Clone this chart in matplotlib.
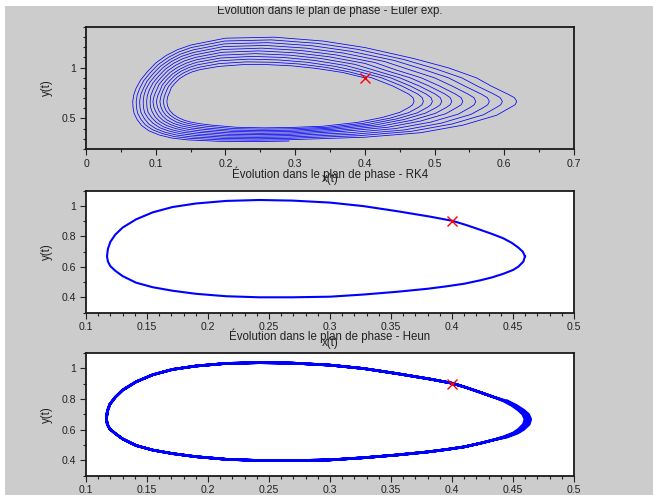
import matplotlib
matplotlib.use("Agg")
import matplotlib.pyplot as plt
from matplotlib.ticker import MultipleLocator, FuncFormatter
from matplotlib.patches import Rectangle

N = None

# ---------------- data ----------------
titles = ["Évolution dans le plan de phase - Euler exp.",
          "Évolution dans le plan de phase - RK4",
          "Évolution dans le plan de phase - Heun"]
start_x, start_y = 0.4, 0.9

# Euler explicit spiral, read station by station; columns = successive turns 0..10
euler_station_x = [
    [0.400, N, N, N, N, N, N, N, N, N, N],                                              # start
    [N, 0.469, 0.4822, 0.4949, 0.5081, 0.5224, 0.5380, 0.5564, 0.5757, 0.5941, 0.6145],   # URa
    [N, 0.463, 0.476, 0.488, 0.501, 0.515, 0.530, 0.548, 0.567, 0.585, 0.605],            # UR1
    [N, 0.440, 0.453, 0.465, 0.478, 0.492, 0.507, 0.525, 0.543, 0.561, 0.581],            # UR2
    [N, 0.410, 0.424, 0.437, 0.450, 0.465, 0.481, 0.500, 0.520, 0.539, 0.560],            # UR3
    [0.368, 0.378, 0.391, 0.403, 0.416, 0.430, 0.445, 0.463, 0.482, 0.500, 0.520],        # UR4
    [0.330, 0.344, 0.358, 0.372, 0.386, 0.400, 0.414, 0.428, 0.442, 0.456, 0.470],        # UR5
    [0.295, 0.306, 0.316, 0.327, 0.337, 0.348, 0.358, 0.369, 0.379, 0.390, 0.400],        # T1
    [0.260, 0.268, 0.276, 0.284, 0.292, 0.300, 0.308, 0.316, 0.324, 0.332, 0.340],        # T2
    [0.225, 0.230, 0.234, 0.239, 0.243, 0.248, 0.252, 0.257, 0.261, 0.266, 0.270],        # T3
    [0.190, 0.191, 0.192, 0.193, 0.194, 0.195, 0.196, 0.197, 0.198, 0.199, 0.200],        # T4
    [0.163, 0.162, 0.160, 0.159, 0.158, 0.157, 0.155, 0.154, 0.153, 0.151, 0.150],        # T5
    [0.152, 0.150, 0.148, 0.146, 0.144, 0.1415, 0.139, 0.137, 0.135, 0.133, 0.131],       # TL
    [0.143, 0.140, 0.137, 0.135, 0.132, 0.129, 0.126, 0.123, 0.121, 0.118, 0.115],        # L1
    [0.1345, 0.131, 0.1276, 0.1242, 0.1207, 0.1173, 0.1138, 0.1104, 0.1069, 0.1035, 0.100],  # L1b
    [0.128, 0.124, 0.120, 0.116, 0.112, 0.108, 0.104, 0.100, 0.096, 0.092, 0.088],        # L2
    [0.1225, 0.1181, 0.1137, 0.1093, 0.1049, 0.1005, 0.0961, 0.0917, 0.0873, 0.0829, 0.0785],  # L2b
    [0.120, 0.115, 0.110, 0.106, 0.101, 0.096, 0.091, 0.086, 0.082, 0.077, 0.072],        # L3
    [0.1170, 0.1122, 0.1073, 0.1025, 0.0976, 0.0928, 0.0879, 0.0831, 0.0782, 0.0734, 0.0685],  # L3b
    [0.116, 0.111, 0.106, 0.101, 0.096, 0.092, 0.087, 0.082, 0.077, 0.072, 0.067],        # L4
    [0.1172, 0.1122, 0.1073, 0.1023, 0.0973, 0.0924, 0.0874, 0.0824, 0.0774, 0.0725, 0.0675],  # L4b
    [0.120, 0.115, 0.110, 0.105, 0.100, 0.095, 0.089, 0.084, 0.079, 0.074, 0.069],        # L5
    [0.1250, 0.1199, 0.1147, 0.1096, 0.1044, 0.0993, 0.0941, 0.0890, 0.0838, 0.0787, 0.0735],  # L5b
    [0.132, 0.127, 0.122, 0.116, 0.111, 0.106, 0.101, 0.096, 0.090, 0.085, 0.080],        # L6
    [0.1405, 0.1355, 0.1305, 0.1255, 0.1205, 0.1155, 0.1105, 0.1055, 0.1005, 0.0955, 0.0905],  # L6b
    [0.150, 0.146, 0.141, 0.137, 0.132, 0.128, 0.123, 0.119, 0.114, 0.110, 0.105],        # B1
    [0.164, 0.160, 0.156, 0.152, 0.148, 0.1435, 0.1395, 0.1355, 0.1312, 0.127, 0.123],    # B1b
    [0.180, 0.177, 0.173, 0.170, 0.166, 0.163, 0.159, 0.156, 0.152, 0.149, 0.145],        # B2
    [0.215, 0.213, 0.210, 0.208, 0.205, 0.203, 0.200, 0.198, 0.195, 0.193, 0.190],        # B3
    [0.255, 0.254, 0.252, 0.251, 0.249, 0.248, 0.246, 0.245, 0.243, 0.242, 0.240],        # B4
    [0.295, 0.295, 0.294, 0.294, 0.293, 0.293, 0.293, 0.292, 0.292, 0.291, 0.291],        # B5
    [0.340, 0.346, 0.351, 0.356, 0.362, 0.368, 0.376, 0.384, 0.392, 0.400, N],            # LR1
    [0.390, 0.398, 0.406, 0.414, 0.423, 0.433, 0.444, 0.456, 0.467, 0.480, N],            # LR2
    [0.425, 0.436, 0.446, 0.456, 0.468, 0.480, 0.495, 0.510, 0.525, 0.541, N],            # LR3
    [0.450, 0.463, 0.475, 0.487, 0.501, 0.516, 0.534, 0.552, 0.570, 0.589, N],            # LR4
    [0.464, 0.477, 0.490, 0.503, 0.517, 0.532, 0.551, 0.570, 0.588, 0.608, N],            # LR5
    [0.4685, 0.4819, 0.4947, 0.5080, 0.5224, 0.5382, 0.5568, 0.5762, 0.5949, 0.6155, N],  # LRa
    [0.4706, 0.4840, 0.4969, 0.5103, 0.5247, 0.5405, 0.5591, 0.5786, 0.5973, 0.6179, N],  # right tip
]
euler_station_y = [
    [0.900, N, N, N, N, N, N, N, N, N, N],
    [N, 0.705, 0.705, 0.705, 0.705, 0.705, 0.705, 0.705, 0.705, 0.705, 0.705],
    [N, 0.74, 0.74, 0.74, 0.74, 0.74, 0.74, 0.74, 0.74, 0.74, 0.74],
    [N, 0.82, 0.82, 0.82, 0.82, 0.82, 0.82, 0.82, 0.82, 0.82, 0.82],
    [N, 0.90, 0.90, 0.90, 0.90, 0.90, 0.90, 0.90, 0.90, 0.90, 0.90],
    [0.953, 0.958, 0.962, 0.965, 0.969, 0.973, 0.977, 0.982, 0.987, 0.992, 0.998],
    [0.993, 1.003, 1.012, 1.022, 1.032, 1.042, 1.051, 1.061, 1.071, 1.080, 1.090],
    [1.018, 1.036, 1.054, 1.072, 1.090, 1.108, 1.126, 1.144, 1.162, 1.180, 1.198],
    [1.030, 1.053, 1.076, 1.100, 1.123, 1.146, 1.169, 1.192, 1.216, 1.239, 1.262],
    [1.030, 1.057, 1.084, 1.111, 1.138, 1.165, 1.192, 1.219, 1.246, 1.273, 1.300],
    [1.012, 1.040, 1.068, 1.095, 1.123, 1.151, 1.179, 1.207, 1.234, 1.262, 1.290],
    [0.980, 1.004, 1.028, 1.053, 1.077, 1.101, 1.125, 1.149, 1.174, 1.198, 1.222],
    [0.958, 0.980, 1.002, 1.023, 1.045, 1.067, 1.089, 1.111, 1.132, 1.154, 1.176],
    [0.930, 0.949, 0.968, 0.987, 1.006, 1.025, 1.044, 1.063, 1.082, 1.101, 1.120],
    [0.893, 0.908, 0.924, 0.939, 0.954, 0.970, 0.985, 1.000, 1.015, 1.031, 1.046],
    [0.850, 0.861, 0.872, 0.883, 0.894, 0.905, 0.916, 0.927, 0.938, 0.949, 0.960],
    [0.806, 0.813, 0.821, 0.828, 0.836, 0.843, 0.850, 0.858, 0.865, 0.873, 0.880],
    [0.760, 0.764, 0.768, 0.772, 0.776, 0.780, 0.784, 0.788, 0.792, 0.796, 0.800],
    [0.712, 0.714, 0.716, 0.718, 0.720, 0.722, 0.724, 0.726, 0.728, 0.730, 0.732],
    [0.665, 0.665, 0.665, 0.665, 0.665, 0.665, 0.665, 0.665, 0.665, 0.665, 0.665],
    [0.620, 0.619, 0.617, 0.616, 0.614, 0.613, 0.612, 0.610, 0.609, 0.607, 0.606],
    [0.580, 0.577, 0.574, 0.571, 0.568, 0.565, 0.562, 0.559, 0.556, 0.553, 0.550],
    [0.542, 0.5365, 0.531, 0.5255, 0.520, 0.5145, 0.509, 0.5035, 0.498, 0.4925, 0.487],
    [0.510, 0.502, 0.494, 0.486, 0.478, 0.470, 0.462, 0.454, 0.446, 0.438, 0.430],
    [0.484, 0.473, 0.463, 0.452, 0.442, 0.431, 0.420, 0.410, 0.399, 0.389, 0.378],
    [0.465, 0.452, 0.440, 0.427, 0.414, 0.402, 0.389, 0.376, 0.363, 0.351, 0.338],
    [0.448, 0.434, 0.420, 0.406, 0.392, 0.378, 0.364, 0.350, 0.336, 0.322, 0.308],
    [0.435, 0.421, 0.406, 0.392, 0.377, 0.363, 0.348, 0.334, 0.319, 0.305, 0.290],
    [0.414, 0.400, 0.386, 0.373, 0.359, 0.345, 0.331, 0.317, 0.304, 0.290, 0.276],
    [0.408, 0.395, 0.381, 0.368, 0.354, 0.341, 0.327, 0.314, 0.300, 0.287, 0.273],
    [0.412, 0.399, 0.385, 0.372, 0.358, 0.345, 0.332, 0.318, 0.305, 0.291, 0.278],
    [0.424, 0.414, 0.405, 0.395, 0.384, 0.373, 0.359, 0.345, 0.331, 0.316, N],
    [0.462, 0.453, 0.444, 0.435, 0.425, 0.414, 0.401, 0.387, 0.374, 0.360, N],
    [0.510, 0.503, 0.497, 0.490, 0.483, 0.475, 0.465, 0.455, 0.446, 0.435, N],
    [0.560, 0.558, 0.555, 0.553, 0.550, 0.547, 0.543, 0.540, 0.536, 0.532, N],
    [0.612, 0.611, 0.611, 0.610, 0.609, 0.609, 0.608, 0.607, 0.606, 0.605, N],
    [0.635, 0.635, 0.635, 0.635, 0.635, 0.635, 0.635, 0.635, 0.635, 0.635, N],
    [0.668, 0.668, 0.668, 0.668, 0.668, 0.668, 0.668, 0.668, 0.668, 0.668, N],
]

# RK4 closed orbit
rk4_x = [0.4598, 0.4580, 0.4544, 0.4490, 0.4420, 0.4330, 0.4230, 0.4120, 0.4006, 0.3820,
         0.3547, 0.3273, 0.3000, 0.2694, 0.2420, 0.2148, 0.1900, 0.1710, 0.1547, 0.1410,
         0.1300, 0.1240, 0.1200, 0.1180, 0.1172, 0.1180, 0.1200, 0.1240, 0.1300, 0.1410,
         0.1547, 0.1710, 0.1900, 0.2148, 0.2420, 0.2694, 0.3000, 0.3273, 0.3547, 0.3800,
         0.3956, 0.4100, 0.4230, 0.4330, 0.4420, 0.4500, 0.4544, 0.4585, 0.4598]
rk4_y = [0.670, 0.700, 0.727, 0.758, 0.788, 0.816, 0.844, 0.874, 0.902, 0.930,
         0.966, 0.999, 1.022, 1.035, 1.039, 1.033, 1.016, 0.993, 0.958, 0.912,
         0.858, 0.812, 0.765, 0.720, 0.670, 0.635, 0.605, 0.575, 0.540, 0.497,
         0.467, 0.444, 0.424, 0.408, 0.401, 0.401, 0.405, 0.419, 0.437, 0.457,
         0.473, 0.490, 0.512, 0.532, 0.555, 0.580, 0.602, 0.635, 0.670]

# Heun: common body of the orbit + slowly drifting right ends
heun_body_x = [0.4330, 0.4230, 0.4120, 0.4006, 0.3820, 0.3547, 0.3273, 0.3000, 0.2694, 0.2420,
               0.2148, 0.1900, 0.1710, 0.1547, 0.1410, 0.1300, 0.1240, 0.1195, 0.1175, 0.1167,
               0.1175, 0.1195, 0.1240, 0.1300, 0.1410, 0.1547, 0.1710, 0.1900, 0.2148, 0.2420,
               0.2694, 0.3000, 0.3273, 0.3547, 0.3800, 0.3956, 0.4100, 0.4230, 0.4330]
heun_body_y = [0.816, 0.844, 0.874, 0.902, 0.930, 0.966, 0.999, 1.021, 1.034, 1.037,
               1.032, 1.015, 0.993, 0.958, 0.912, 0.858, 0.812, 0.765, 0.720, 0.670,
               0.635, 0.605, 0.575, 0.540, 0.497, 0.467, 0.444, 0.424, 0.407, 0.399,
               0.398, 0.403, 0.417, 0.435, 0.455, 0.471, 0.488, 0.511, 0.531]
heun_tip_y = [0.553, 0.578, 0.602, 0.635, 0.668, 0.700, 0.727, 0.758, 0.788]
heun_tip_x = [
    [0.4420, 0.4500, 0.4544, 0.4585, 0.4598, 0.4580, 0.4544, 0.4490, 0.4420],
    [0.4432, 0.4513, 0.4559, 0.4601, 0.4614, 0.4596, 0.4559, 0.4503, 0.4431],
    [0.4444, 0.4526, 0.4574, 0.4617, 0.4630, 0.4612, 0.4574, 0.4516, 0.4442],
    [0.4456, 0.4539, 0.4589, 0.4633, 0.4646, 0.4628, 0.4589, 0.4529, 0.4453],
]

# ---------------- assemble paths ----------------
euler_x, euler_y = [], []
for k in range(11):
    for sx, sy in zip(euler_station_x, euler_station_y):
        if sx[k] is not None:
            euler_x.append(sx[k])
            euler_y.append(sy[k])

heun_x, heun_y = [], []
for tx in heun_tip_x:
    heun_x += heun_body_x + tx
    heun_y += heun_body_y + heun_tip_y

# ---------------- figure ----------------
plt.rcParams['font.family'] = ['Liberation Sans', 'DejaVu Sans']
BG = '#cccccc'
FS = 7.6
FT = 8.3
fig = plt.figure(figsize=(6.53, 4.95), dpi=100, facecolor=BG)

W, H = 653.0, 495.0
def rect(top_px, bot_px, left_px=86, right_px=574):
    return [left_px / W, 1 - bot_px / H, (right_px - left_px) / W, (bot_px - top_px) / H]

ax1 = fig.add_axes(rect(27, 149))
ax2 = fig.add_axes(rect(190.7, 312.7))
ax3 = fig.add_axes(rect(353, 475.7))

fmt = FuncFormatter(lambda v, p: '%g' % round(v, 6))

def style(ax, title, face, xlim, ylim, xmaj, xmin, ymaj, ymin):
    ax.set_facecolor(face)
    ax.set_xlim(*xlim)
    ax.set_ylim(*ylim)
    ax.xaxis.set_major_locator(MultipleLocator(xmaj))
    ax.xaxis.set_minor_locator(MultipleLocator(xmin))
    ax.yaxis.set_major_locator(MultipleLocator(ymaj))
    ax.yaxis.set_minor_locator(MultipleLocator(ymin))
    ax.xaxis.set_major_formatter(fmt)
    ax.yaxis.set_major_formatter(fmt)
    ax.tick_params(which='both', direction='out', top=False, right=False,
                   colors='#222222', labelsize=FS, width=0.8)
    ax.tick_params(which='major', length=4, pad=3)
    ax.tick_params(which='minor', length=2.5)
    for s in ax.spines.values():
        s.set_color('#1a1a1a')
        s.set_linewidth(1.3)
    ax.set_title(title, fontsize=FT, pad=9.5, color='#222222')
    ax.set_xlabel('x(t)', fontsize=FT, color='#222222')
    ax.set_ylabel('y(t)', fontsize=FT, color='#222222')
    ax.xaxis.set_label_coords(0.5, -0.2)
    ax.yaxis.set_label_coords(-0.068, 0.5)

style(ax1, titles[0], BG, (0, 0.7), (0.2, 1.4), 0.1, 0.05, 0.5, 0.1)
style(ax2, titles[1], 'white', (0.1, 0.5), (0.3, 1.1), 0.05, 0.01, 0.2, 0.1)
style(ax3, titles[2], 'white', (0.1, 0.5), (0.3, 1.1), 0.05, 0.01, 0.2, 0.1)

ax1.plot(euler_x, euler_y, color='#0000ff', lw=0.55)
ax2.plot(rk4_x, rk4_y, color='#0000ff', lw=1.5)
ax3.plot(heun_x, heun_y, color='#0000ff', lw=1.9)

for ax in (ax1, ax2, ax3):
    ax.plot([start_x], [start_y], marker='x', color='red', ms=6.5, mew=1.0, ls='none')

# white margins of the original window capture
fig.add_artist(Rectangle((0, 1 - 6 / H), 1, 6 / H, transform=fig.transFigure,
                         facecolor='white', edgecolor='none', zorder=20))
fig.add_artist(Rectangle((0, 0), 5 / W, 1, transform=fig.transFigure,
                         facecolor='white', edgecolor='none', zorder=20))

fig.savefig('out.png', dpi=100, facecolor=BG)
